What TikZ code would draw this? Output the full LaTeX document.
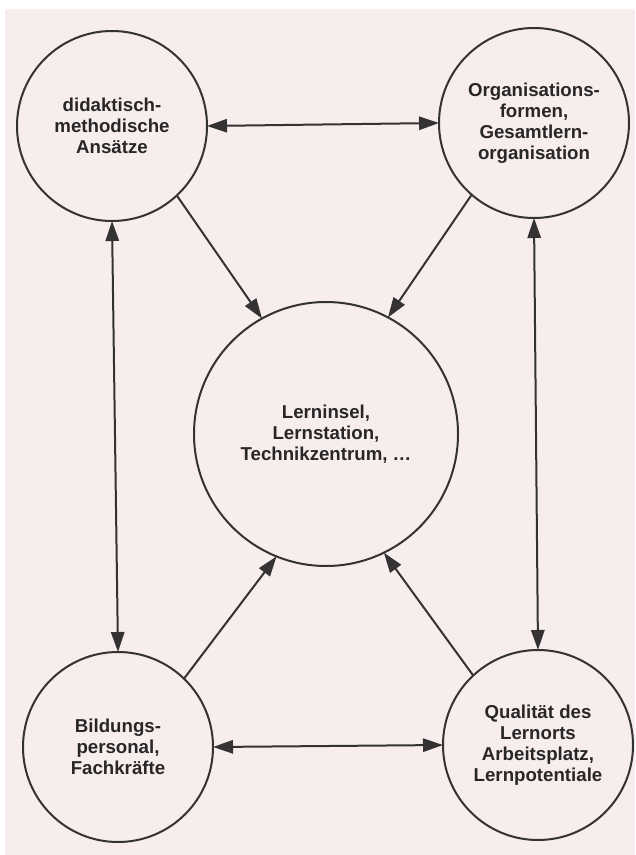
\documentclass[tikz,border=0pt]{standalone}
\usepackage{fontspec}
\setmainfont{Liberation Sans}
\usetikzlibrary{arrows.meta}
\definecolor{bgpink}{RGB}{247,237,237}
\definecolor{ink}{RGB}{52,50,50}
\definecolor{txt}{RGB}{40,38,38}
\tikzset{
  bubble/.style={circle, draw=ink, line width=1.5pt, inner sep=0pt, outer sep=0pt,
    minimum size=142.5pt, align=center, text=txt,
    font=\bfseries\fontsize{14}{15.75}\selectfont},
  bigbubble/.style={bubble, minimum size=198pt},
  link/.style={draw=ink, line width=1.5pt, -{Triangle[length=15pt,width=10pt]}},
  dlink/.style={draw=ink, line width=1.5pt, {Triangle[length=15pt,width=10pt]}-{Triangle[length=15pt,width=10pt]}}
}
\begin{document}
\begin{tikzpicture}[x=0.75pt,y=-0.75pt]
\useasboundingbox (0,0) rectangle (635,855);
\fill[white] (0,0) rectangle (635,855);
\fill[bgpink] (5,9) rectangle (635,855);

\node[bubble] (tl) at (112,126) {didaktisch-\\methodische\\Ansätze};
\node[bubble] (tr) at (534,123) {Organisations-\\formen,\\Gesamtlern-\\organisation};
\node[bigbubble] (c) at (326,434) {Lerninsel,\\Lernstation,\\Technikzentrum, \dots};
\node[bubble] (bl) at (118,747) {Bildungs-\\personal,\\Fachkräfte};
\node[bubble] (br) at (538,745) {Qualität des\\Lernorts\\Arbeitsplatz,\\Lernpotentiale};

\draw[dlink] (tl.east) -- (tr.west);
\draw[dlink] (bl.east) -- (br.west);
\draw[dlink] (tl.south) -- (bl.north);
\draw[dlink] (tr.south) -- (br.north);

\draw[link] (tl.-47) -- (c.119.6);
\draw[link] (tr.-131.6) -- (c.62.9);
\draw[link] (bl.46) -- (c.-112.5);
\draw[link] (br.133.3) -- (c.-64);
\end{tikzpicture}
\end{document}
